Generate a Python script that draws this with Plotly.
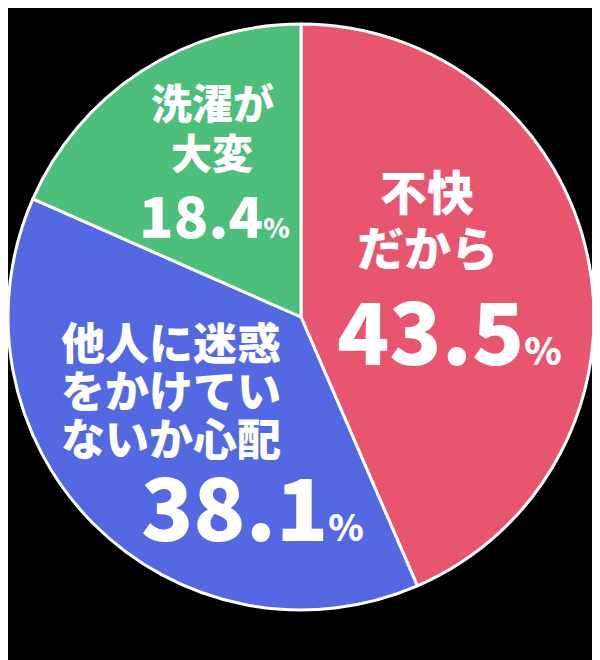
import plotly.graph_objects as go

# Data
labels = ["不快だから", "他人に迷惑をかけていないか心配", "洗濯が大変"]
label_lines = [["不快", "だから"], ["他人に迷惑", "をかけてい", "ないか心配"], ["洗濯が", "大変"]]
values = [43.5, 38.1, 18.4]
colors = ["#E8556F", "#5469E1", "#4EBE7B"]

W, H = 600, 660
OFF = 8  # page body margin pushes the plot down/right


def px(x, y):
    return (x - OFF) / W, 1 - (y - OFF) / H


# text placement per slice: (x center, first line y, line pitch, label size, value x, value y, value size, pct size)
text_pos = [
    (427, 189, 56, 47, 449, 327, 86, 38),
    (171, 341, 48, 44, 252, 503, 86, 36),
    (212, 101, 50, 41, 214, 213, 57, 27),
]

# pie of diameter ~586 centred at (301, 317) on the page
x0, y_top = px(8, 24)
x1, y_bot = px(594, 610)
fig = go.Figure(go.Pie(
    labels=labels,
    values=values,
    sort=False,
    direction="clockwise",
    rotation=0,
    marker=dict(colors=colors, line=dict(color="white", width=3)),
    textinfo="none",
    hoverinfo="label+percent",
    domain=dict(x=[max(x0, 0), x1], y=[y_bot, y_top]),
    showlegend=False,
))

jp = "Noto Sans CJK JP"
annotations = []
for lines, val, pos in zip(label_lines, values, text_pos):
    cx, y0, pitch, lsize, vx, vy, vsize, psize = pos
    for i, line in enumerate(lines):
        ax, ay = px(cx, y0 + i * pitch)
        annotations.append(dict(
            x=ax, y=ay, xref="paper", yref="paper", text=line, showarrow=False,
            xanchor="center", yanchor="middle", height=pitch - 2,
            font=dict(family=jp, size=lsize, color="white", weight=900),
        ))
    ax, ay = px(vx, vy)
    annotations.append(dict(
        x=ax, y=ay, xref="paper", yref="paper", showarrow=False,
        text="%.1f<span style='font-size:%dpx'>%%</span>" % (val, psize),
        xanchor="center", yanchor="middle",
        font=dict(family=jp, size=vsize, color="white", weight=900),
    ))

fig.update_layout(
    width=W, height=H,
    margin=dict(l=0, r=0, t=0, b=0),
    paper_bgcolor="black",
    plot_bgcolor="black",
    annotations=annotations,
)

fig.write_html("out.html")
